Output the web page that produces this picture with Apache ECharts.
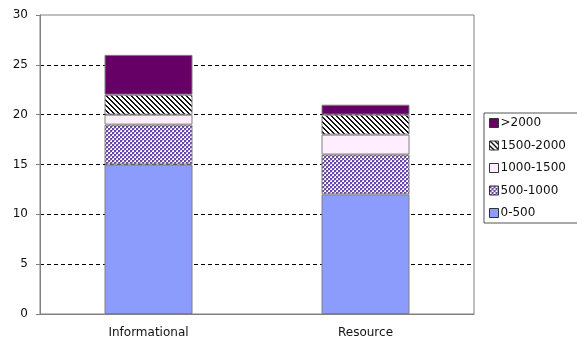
<!DOCTYPE html>
<html><head><meta charset="utf-8">
<script src="https://cdn.jsdelivr.net/npm/echarts@6/dist/echarts.min.js"></script>
<style>html,body{margin:0;padding:0;background:#fff}#c{width:577px;height:347px}</style>
</head><body><div id="c"></div>
<script>
const categories = ['Informational', 'Resource'];
const seriesNames = ['0-500', '500-1000', '1000-1500', '1500-2000', '>2000'];
const v0_500 = [15, 12];
const v500_1000 = [4, 4];
const v1000_1500 = [1, 2];
const v1500_2000 = [2, 2];
const vOver2000 = [4, 1];
const yTicks = [0, 5, 10, 15, 20, 25, 30];

function mkPattern(draw, w, h) {
  const c = document.createElement('canvas');
  c.width = w; c.height = h;
  const g = c.getContext('2d');
  draw(g);
  return { image: c, repeat: 'repeat' };
}
const checker = mkPattern(g => {
  g.fillStyle = '#ffffff'; g.fillRect(0, 0, 4, 4);
  g.fillStyle = '#6a4a9c';
  g.fillRect(0, 0, 2, 2); g.fillRect(2, 2, 2, 2);
  g.fillStyle = '#b8a8d8';
  g.fillRect(2, 0, 1, 1); g.fillRect(0, 2, 1, 1);
}, 4, 4);
const stripes = mkPattern(g => {
  g.fillStyle = '#ffffff'; g.fillRect(0, 0, 5, 5);
  g.fillStyle = '#111111';
  for (let y = 0; y < 5; y++) {
    for (let x = 0; x < 5; x++) {
      if ((((x - y) % 5) + 5) % 5 < 2) g.fillRect(x, y, 1, 1);
    }
  }
}, 5, 5);

const colors = ['#8c9cfc', checker, '#ffeeff', stripes, '#660066'];
const values = [v0_500, v500_1000, v1000_1500, v1500_2000, vOver2000];
const FONT = 'DejaVu Sans, Verdana, sans-serif';

const chart = echarts.init(document.getElementById('c'), null, { renderer: 'canvas' });
chart.setOption({
  animation: false,
  textStyle: { fontFamily: FONT },
  grid: { left: 40, right: 103, top: 15, bottom: 33, show: true, borderColor: '#808080', borderWidth: 1, backgroundColor: '#ffffff' },
  legend: {
    orient: 'vertical', left: 484, top: 113,
    data: seriesNames.slice().reverse(),
    itemWidth: 9, itemHeight: 9, itemGap: 8.5,
    icon: 'rect',
    borderColor: '#555', borderWidth: 1, padding: [3, 40, 3, 5],
    textStyle: { fontFamily: FONT, fontSize: 12, color: '#111', padding: [0, 0, 0, -3], lineHeight: 14 },
    itemStyle: { borderColor: '#333', borderWidth: 1 }
  },
  xAxis: {
    type: 'category', data: categories,
    axisLine: { lineStyle: { color: '#808080' } },
    axisTick: { lineStyle: { color: '#808080' }, length: 4 },
    axisLabel: { color: '#111', fontFamily: FONT, fontSize: 12, margin: 13 }
  },
  yAxis: {
    type: 'value', min: 0, max: 30, interval: 5,
    axisLine: { show: true, lineStyle: { color: '#808080' } },
    axisTick: { show: true, lineStyle: { color: '#808080' }, length: 4 },
    axisLabel: { color: '#111', fontFamily: FONT, fontSize: 12, margin: 12,
      formatter: v => yTicks.includes(v) ? String(v) : '' },
    splitLine: { showMinLine: false, showMaxLine: false, lineStyle: { color: '#000', type: [4, 3], width: 1 } }
  },
  series: seriesNames.map((n, i) => ({
    name: n, type: 'bar', stack: 'a', data: values[i], barWidth: 88,
    itemStyle: { color: colors[i], borderColor: '#808080', borderWidth: 1 }
  }))
});
</script></body></html>
